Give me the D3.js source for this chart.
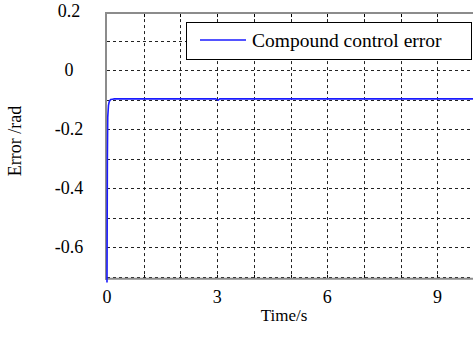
<!DOCTYPE html>
<html><head><meta charset="utf-8">
<script src="https://cdn.jsdelivr.net/npm/d3@7/dist/d3.min.js"></script>
<style>body{margin:0;background:#fff}svg{display:block}svg text{font-family:'Liberation Serif','Times New Roman',Times,serif !important}</style>
</head><body>
<script>
const timeS = [0, 0.01, 0.02, 0.04, 0.06, 0.08, 0.1, 0.15, 0.2, 2.96, 3.0, 3.03, 3.07, 10.3];
const errorRad = [-0.72, -0.3, -0.16, -0.12, -0.108, -0.103, -0.1, -0.099, -0.098, -0.098, -0.101, -0.102, -0.098, -0.098];
const xTickLabels = ["0", "3", "6", "9"];
const xTickValues = [0, 3, 6, 9];
const yTickLabels = ["0.2", "0", "-0.2", "-0.4", "-0.6"];
const yTickValues = [0.2, 0, -0.2, -0.4, -0.6];
const xGrid = [1,2,3,4,5,6,7,8,9,10];
const yGrid = [0.1, 0, -0.1, -0.2, -0.3, -0.4, -0.5, -0.6, -0.7];
const seriesName = "Compound control error";

const W = 473, H = 338;
const svg = d3.select("body").append("svg").attr("width", W).attr("height", H);
const x = d3.scaleLinear().domain([0, 10.3]).range([107, 107 + 10.3 * 36.72]);
const y = d3.scaleLinear().domain([0, -0.7]).range([70, 276.5]);
const yTop = y(0.193), yBot = y(-0.708);

svg.append("rect").attr("x", 107).attr("y", yTop).attr("width", W).attr("height", yBot - yTop).attr("fill", "#fff");

const g = svg.append("g");
g.selectAll(".vg").data(xGrid).join("line")
  .attr("x1", d => Math.round(x(d)) + 0.5).attr("x2", d => Math.round(x(d)) + 0.5)
  .attr("y1", yTop).attr("y2", yBot)
  .attr("stroke", "#222").attr("stroke-width", 1).attr("stroke-dasharray", "3,3");
g.selectAll(".hg").data(yGrid).join("line")
  .attr("y1", d => Math.round(y(d)) + 0.5).attr("y2", d => Math.round(y(d)) + 0.5)
  .attr("x1", 107).attr("x2", W)
  .attr("stroke", "#222").attr("stroke-width", 1).attr("stroke-dasharray", "3,3");

g.selectAll(".xt").data(xGrid).join("line")
  .attr("x1", d => Math.round(x(d)) + 0.5).attr("x2", d => Math.round(x(d)) + 0.5)
  .attr("y1", yBot).attr("y2", yBot - 4).attr("stroke", "#000");
g.selectAll(".xtt").data(xGrid).join("line")
  .attr("x1", d => Math.round(x(d)) + 0.5).attr("x2", d => Math.round(x(d)) + 0.5)
  .attr("y1", yTop).attr("y2", yTop + 4).attr("stroke", "#000");

svg.append("line").attr("x1", 105).attr("x2", W).attr("y1", yTop).attr("y2", yTop).attr("stroke", "#8c8c8c").attr("stroke-width", 2);
svg.append("line").attr("x1", 106).attr("x2", 106).attr("y1", yTop - 1).attr("y2", yBot + 1).attr("stroke", "#8c8c8c").attr("stroke-width", 2);
svg.append("line").attr("x1", 105).attr("x2", W).attr("y1", yBot).attr("y2", yBot).attr("stroke", "#8c8c8c").attr("stroke-width", 2);

const line = d3.line().x((d, i) => x(timeS[i])).y(d => y(d));
svg.append("path").datum(errorRad).attr("d", line)
  .attr("fill", "none").attr("stroke", "#1a1aff").attr("stroke-width", 1.6);

svg.selectAll(".xl").data(xTickValues).join("text")
  .attr("x", d => x(d)).attr("y", 303).attr("text-anchor", "middle")
  .attr("font-size", 18).text((d, i) => xTickLabels[i]);
svg.selectAll(".yl").data(yTickValues).join("text")
  .attr("x", 69).attr("y", d => y(d) + 6).attr("text-anchor", "middle")
  .attr("font-size", 18).text((d, i) => yTickLabels[i]);

svg.append("text").attr("x", 284).attr("y", 321).attr("text-anchor", "middle")
  .attr("font-size", 17).text("Time/s");
svg.append("text").attr("transform", "translate(21,141) rotate(-90)")
  .attr("text-anchor", "middle").attr("font-size", 18).text("Error /rad");

const lg = svg.append("g");
lg.append("rect").attr("x", 186.5).attr("y", 22.5).attr("width", 285).attr("height", 37)
  .attr("fill", "#fff").attr("stroke", "#000").attr("stroke-width", 1);
lg.append("line").attr("x1", 200).attr("x2", 246).attr("y1", 40).attr("y2", 40)
  .attr("stroke", "#1a1aff").attr("stroke-width", 1.6);
lg.append("text").attr("x", 252).attr("y", 47).attr("font-size", 19.5).text(seriesName);
</script>
</body></html>
